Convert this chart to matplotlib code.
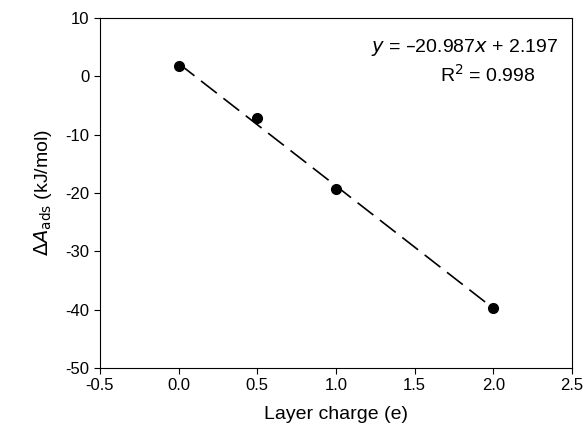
import matplotlib
matplotlib.use('Agg')
from matplotlib import pyplot as plt
import numpy as np

plt.rcParams['font.family'] = ['Liberation Sans', 'DejaVu Sans']
plt.rcParams['axes.unicode_minus'] = False

# data points
charge = [0.0, 0.5, 1.0, 2.0]
dA = [1.8, -7.2, -19.3, -39.7]
slope = -20.987
intercept = 2.197

fig = plt.figure(figsize=(5.85, 4.32), dpi=100)
ax = fig.add_axes([100/585, 1 - 368/432, 472/585, 350/432])

xf = np.array([charge[0], charge[-1]])
ax.plot(xf, slope * xf + intercept, color='black', lw=1.2, dashes=(12, 5))
ax.plot(charge, dA, 'o', color='black', ms=7)

ax.set_xlim(-0.5, 2.5)
ax.set_ylim(-50, 10)
ax.set_xticks(np.arange(-0.5, 2.51, 0.5))
ax.set_yticks(np.arange(-50, 11, 10))
ax.set_xticklabels(['-0.5', '0.0', '0.5', '1.0', '1.5', '2.0', '2.5'])
ax.tick_params(labelsize=12, direction='out', length=4)
ax.set_xlabel('Layer charge (e)', fontsize=14, labelpad=9)
ax.set_ylabel(r'$\Delta A_{\mathrm{ads}}$ (kJ/mol)', fontsize=14, labelpad=8)

ax.text(2.41, 5.0, r'$y$ = –20.987$x$ + 2.197', fontsize=14, ha='right', va='center')
ax.text(2.27, 0.2, r'R$^2$ = 0.998', fontsize=14, ha='right', va='center')

fig.savefig('out.png', dpi=100)
